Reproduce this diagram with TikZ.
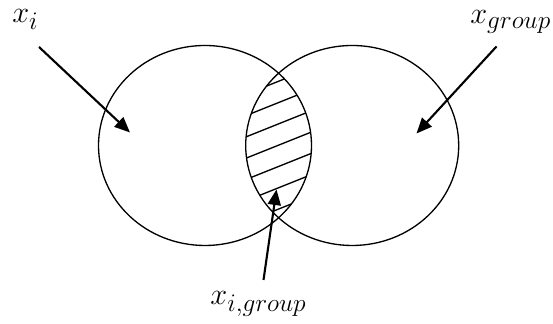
\documentclass[tikz,border=0pt]{standalone}
\usetikzlibrary{arrows.meta}
\DeclareMathSizes{18}{18}{14}{11}
\begin{document}
\begin{tikzpicture}[pointer/.style={-{Triangle[length=0.31cm,width=0.26cm]},line width=1.2pt},
  setline/.style={line width=0.75pt},
  label/.style={inner sep=0pt,font=\fontsize{18}{22}\selectfont}]
\useasboundingbox (0,0) rectangle (11.06,6.48);
\draw[setline] (4.10,3.57) ellipse (2.13 and 2.0);
\draw[setline] (7.044,3.57) ellipse (2.13 and 2.0);
\begin{scope}
\clip (4.10,3.57) ellipse (2.13 and 2.0);
\clip (7.044,3.57) ellipse (2.13 and 2.0);
\foreach \k in {0,...,6}
  \draw[setline] (4.6,4.466-0.426*\k) -- (6.6,5.266-0.426*\k);
\end{scope}
\node[label,anchor=base west] (xi) at (0.24,6.02) {$x_i$};
\node[label,anchor=base east] (xgroup) at (11.03,6.0) {$x_{group}$};
\node[label,anchor=base] (xigroup) at (5.17,0.38) {$x_{i,group}$};
\coordinate (xi-from) at (0.78,5.54);
\coordinate (xi-to) at (2.60,3.83);
\coordinate (xgroup-from) at (9.93,5.55);
\coordinate (xgroup-to) at (8.33,3.81);
\coordinate (xigroup-from) at (5.27,0.88);
\coordinate (xigroup-to) at (5.53,2.69);
\draw[pointer] (xi-from) -- (xi-to);
\draw[pointer] (xgroup-from) -- (xgroup-to);
\draw[pointer] (xigroup-from) -- (xigroup-to);
\end{tikzpicture}
\end{document}
